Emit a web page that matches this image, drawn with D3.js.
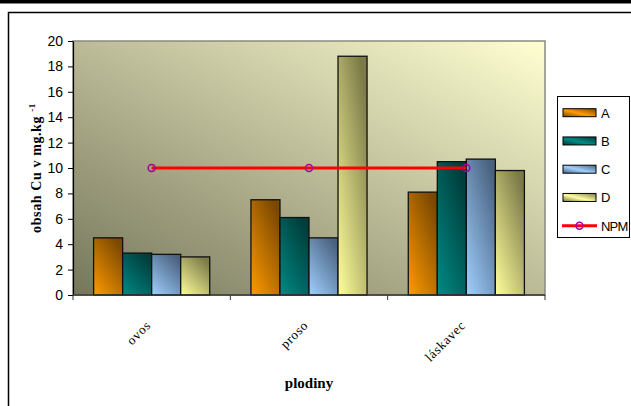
<!DOCTYPE html>
<html>
<head>
<meta charset="utf-8">
<script src="https://cdn.jsdelivr.net/npm/d3@7"></script>
<style>
  html, body { margin: 0; padding: 0; background: #fff; }
  svg { display: block; }
</style>
</head>
<body>
<svg id="chart" width="631" height="406"></svg>
<script>
// Copper content in crops (mg/kg) for treatments A–D, with the NPM limit
const crops = ["ovos", "proso", "láskavec"];
const series = ["A", "B", "C", "D"];
const valuesA = [4.5, 7.5, 8.1];
const valuesB = [3.3, 6.1, 10.5];
const valuesC = [3.2, 4.5, 10.7];
const valuesD = [3.0, 18.8, 9.8];
const npm = [10, 10, 10];
const yTicks = [0, 2, 4, 6, 8, 10, 12, 14, 16, 18, 20];

const seriesValues = { A: valuesA, B: valuesB, C: valuesC, D: valuesD };
const seriesColors = {
  A: ["#ff9a00", "#7a4800"],
  B: ["#008a84", "#003c3a"],
  C: ["#9fd0ff", "#4a6280"],
  D: ["#ffff9c", "#7c7a48"]
};

const svg = d3.select("#chart");
const margin = { left: 73, right: 86, top: 41, bottom: 111 };
const W = 631, H = 406;
const plotL = margin.left, plotR = W - margin.right;
const plotT = margin.top, plotB = H - margin.bottom;

const defs = svg.append("defs");

// plot background: dark olive at bottom-left to pale yellow at top-right
const bg = defs.append("linearGradient").attr("id", "bg")
  .attr("x1", 0).attr("y1", 1).attr("x2", 1).attr("y2", 0);
bg.append("stop").attr("offset", 0).attr("stop-color", "#76765c");
bg.append("stop").attr("offset", 1).attr("stop-color", "#ffffd2");

series.forEach(s => {
  const g = defs.append("linearGradient").attr("id", "grad" + s)
    .attr("x1", 0).attr("y1", 1).attr("x2", 0.75).attr("y2", 0);
  g.append("stop").attr("offset", 0).attr("stop-color", seriesColors[s][0]);
  g.append("stop").attr("offset", 1).attr("stop-color", seriesColors[s][1]);
  const gl = defs.append("linearGradient").attr("id", "leg" + s)
    .attr("x1", 0).attr("y1", 1).attr("x2", 1).attr("y2", 0);
  gl.append("stop").attr("offset", 0).attr("stop-color", seriesColors[s][1]);
  gl.append("stop").attr("offset", 0.45).attr("stop-color", seriesColors[s][0]);
  gl.append("stop").attr("offset", 1).attr("stop-color", seriesColors[s][1]);
});

// outer frame
svg.append("rect").attr("x", 0).attr("y", 0).attr("width", W).attr("height", 3.5).attr("fill", "#000");
svg.append("rect").attr("x", 8.5).attr("y", 12.5).attr("width", 700).attr("height", 500)
  .attr("fill", "none").attr("stroke", "#000").attr("stroke-width", 1.5);

// scales
const x0 = d3.scaleBand().domain(crops).range([plotL, plotR]).padding(0);
const x1 = d3.scaleBand().domain(series).range([0, x0.bandwidth()]).paddingInner(0).paddingOuter(0.71);
const y = d3.scaleLinear().domain([0, 20]).range([plotB, plotT]);

// plot area
svg.append("rect").attr("x", plotL).attr("y", plotT)
  .attr("width", plotR - plotL).attr("height", plotB - plotT)
  .attr("fill", "url(#bg)").attr("stroke", "#8a8a80").attr("stroke-width", 1.5);

// bars
const groups = svg.append("g").selectAll("g").data(crops).join("g")
  .attr("transform", d => `translate(${x0(d)},0)`);
groups.selectAll("rect")
  .data((c, i) => series.map(s => ({ s, v: seriesValues[s][i] })))
  .join("rect")
  .attr("x", d => x1(d.s))
  .attr("y", d => y(d.v))
  .attr("width", x1.bandwidth())
  .attr("height", d => y(0) - y(d.v))
  .attr("fill", d => `url(#grad${d.s})`)
  .attr("stroke", "#111")
  .attr("stroke-width", 1.3);

// axes
const yAxis = svg.append("g").attr("transform", `translate(${plotL},0)`)
  .call(d3.axisLeft(y).tickValues(yTicks).tickSize(5).tickPadding(5).tickSizeOuter(0));
yAxis.select(".domain").attr("stroke", "#000").attr("stroke-width", 1.2);
yAxis.selectAll("text").attr("font-family", "Liberation Sans, Arial, sans-serif")
  .attr("font-size", 14).attr("fill", "#000");
yAxis.selectAll("line").attr("stroke", "#000");

svg.append("line").attr("x1", plotL).attr("x2", plotR).attr("y1", plotB).attr("y2", plotB)
  .attr("stroke", "#333").attr("stroke-width", 1.5);
const bounds = crops.map(c => x0(c)).concat([plotR]);
svg.append("g").selectAll("line").data(bounds).join("line")
  .attr("x1", d => d).attr("x2", d => d)
  .attr("y1", plotB).attr("y2", plotB + 5)
  .attr("stroke", "#333").attr("stroke-width", 1);

// category labels
svg.append("g").selectAll("text").data(crops).join("text")
  .attr("transform", d => `translate(${x0(d) + x0.bandwidth() / 2},326) rotate(-45)`)
  .attr("text-anchor", "end")
  .attr("font-family", "Liberation Serif, Times New Roman, serif")
  .attr("font-size", 13).attr("letter-spacing", 0.8)
  .text(d => d);

// NPM limit line
const cx = d => x0(d) + x0.bandwidth() / 2;
const line = d3.line().x((d, i) => cx(crops[i])).y(d => y(d));
svg.append("path").datum(npm).attr("d", line)
  .attr("fill", "none").attr("stroke", "#ff0000").attr("stroke-width", 3);
svg.append("g").selectAll("circle").data(npm).join("circle")
  .attr("cx", (d, i) => cx(crops[i])).attr("cy", d => y(d)).attr("r", 3.5)
  .attr("fill", "none").attr("stroke", "#a000a0").attr("stroke-width", 1.5);

// axis titles
svg.append("text")
  .attr("transform", `translate(41,${(plotT + plotB) / 2}) rotate(-90)`)
  .attr("text-anchor", "middle")
  .attr("font-family", "Liberation Serif, Times New Roman, serif")
  .attr("font-weight", "bold").attr("font-size", 14).attr("letter-spacing", 0.6)
  .call(t => {
    t.append("tspan").text("obsah Cu v mg.kg ");
    t.append("tspan").attr("font-size", 9).attr("dy", -6).text("-1");
  });

svg.append("text")
  .attr("x", (plotL + plotR) / 2).attr("y", 388)
  .attr("text-anchor", "middle")
  .attr("font-family", "Liberation Serif, Times New Roman, serif")
  .attr("font-weight", "bold").attr("font-size", 15)
  .text("plodiny");

// legend
const legend = svg.append("g");
legend.append("rect").attr("x", 557.5).attr("y", 96.5).attr("width", 72).attr("height", 141)
  .attr("fill", "#fff").attr("stroke", "#000").attr("stroke-width", 1);
const legItems = series.concat(["NPM"]);
const ly = d3.scalePoint().domain(legItems).range([112.7, 225.7]);
legItems.forEach(k => {
  const yy = ly(k);
  if (k === "NPM") {
    legend.append("line").attr("x1", 562).attr("x2", 597).attr("y1", yy).attr("y2", yy)
      .attr("stroke", "#ff0000").attr("stroke-width", 3);
    legend.append("circle").attr("cx", 579.5).attr("cy", yy).attr("r", 3.5)
      .attr("fill", "none").attr("stroke", "#a000a0").attr("stroke-width", 1.5);
  } else {
    legend.append("rect").attr("x", 563).attr("y", yy - 4).attr("width", 33).attr("height", 8)
      .attr("fill", `url(#leg${k})`).attr("stroke", "#000").attr("stroke-width", 1);
  }
  legend.append("text").attr("x", 601).attr("y", yy + 5)
    .attr("font-family", "Liberation Sans, Arial, sans-serif").attr("font-size", 13)
    .attr("letter-spacing", k === "NPM" ? -0.8 : 0)
    .text(k);
});
</script>
</body>
</html>
